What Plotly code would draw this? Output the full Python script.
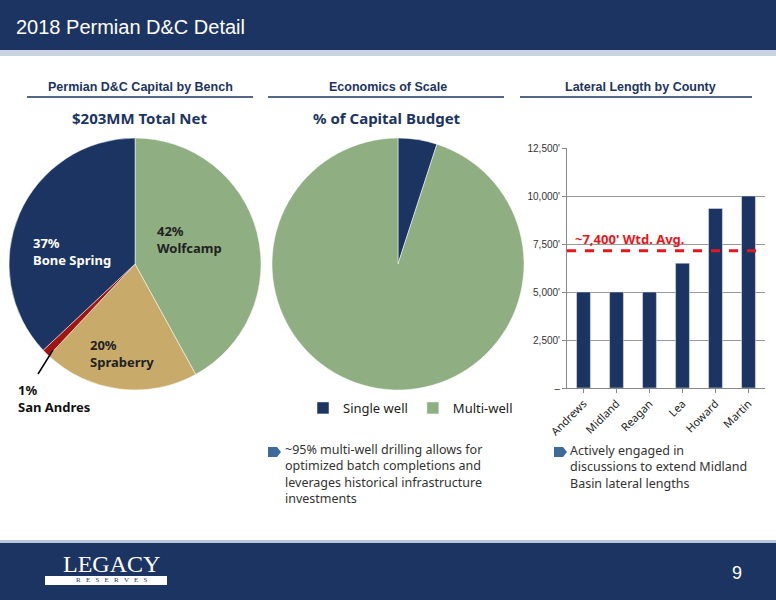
import plotly.graph_objects as go

bench_labels = ["Wolfcamp", "Spraberry", "San Andres", "Bone Spring"]
bench_values = [42, 20, 1, 37]
bench_colors = ["#8fae82", "#c8ab6a", "#a3140e", "#1c3461"]

scale_labels = ["Single well", "Multi-well"]
scale_values = [5, 95]
scale_colors = ["#1c3461", "#8fae82"]

counties = ["Andrews", "Midland", "Reagan", "Lea", "Howard", "Martin"]
lateral = [5000, 5000, 5000, 6500, 9350, 10000]
wtd_avg = 7150
yticks = [0, 2500, 5000, 7500, 10000, 12500]
ytick_text = ["–", "2,500'", "5,000'", "7,500'", "10,000'", "12,500'"]

W, H = 776, 600
def px(x): return x / W
def py(y): return 1 - y / H

fig = go.Figure()
fig.add_trace(go.Pie(labels=bench_labels, values=bench_values, sort=False, direction="clockwise",
                     marker=dict(colors=bench_colors, line=dict(color="white", width=0.5)),
                     textinfo="none", hoverinfo="label+percent", showlegend=False,
                     domain=dict(x=[px(9), px(261)], y=[py(390), py(138)])))
fig.add_trace(go.Pie(labels=scale_labels, values=scale_values, sort=False, direction="clockwise",
                     marker=dict(colors=scale_colors, line=dict(color="white", width=0.5)),
                     textinfo="none", showlegend=True,
                     domain=dict(x=[px(272), px(524)], y=[py(390), py(138)])))
fig.add_trace(go.Bar(x=counties, y=lateral, marker_color="#1c3461", width=0.42,
                     showlegend=False, xaxis="x", yaxis="y"))
fig.add_trace(go.Scatter(x=[-0.5, 5.5], y=[wtd_avg, wtd_avg], mode="lines",
                         line=dict(color="#e8161b", width=3, dash="dash"),
                         showlegend=False, xaxis="x2", yaxis="y"))

shapes = [
    dict(type="rect", xref="paper", yref="paper", x0=0, x1=1, y0=py(50), y1=1,
         fillcolor="#1c3461", line_width=0, layer="below"),
    dict(type="rect", xref="paper", yref="paper", x0=0, x1=1, y0=py(56), y1=py(50),
         fillcolor="#c9d3e2", line_width=0, layer="below"),
    dict(type="rect", xref="paper", yref="paper", x0=0, x1=1, y0=0, y1=py(543),
         fillcolor="#1c3461", line_width=0, layer="below"),
    dict(type="rect", xref="paper", yref="paper", x0=0, x1=1, y0=py(543), y1=py(540),
         fillcolor="#b7c7dc", line_width=0, layer="below"),
    dict(type="rect", xref="paper", yref="paper", x0=px(45), x1=px(167), y0=py(585), y1=py(576),
         fillcolor="white", line_width=0),
]
for x0, x1 in [(27, 253), (268, 504), (520, 752)]:
    shapes.append(dict(type="line", xref="paper", yref="paper", x0=px(x0), x1=px(x1),
                       y0=py(97), y1=py(97), line=dict(color="#1c3461", width=1.5)))
shapes.append(dict(type="line", xref="paper", yref="paper", x0=px(38), x1=px(53),
                   y0=py(374), y1=py(350), line=dict(color="black", width=1.5)))
for bx, by in [(268, 452), (554, 452)]:
    shapes.append(dict(type="path", xref="paper", yref="paper",
                       path=f"M {px(bx)},{py(by-5)} L {px(bx+9)},{py(by-5)} L {px(bx+13)},{py(by)} L {px(bx+9)},{py(by+5)} L {px(bx)},{py(by+5)} Z",
                       fillcolor="#3d6a99", line_width=0))

F = "Noto Sans"
ann = [
    dict(x=px(14), y=py(27), text="2018 Permian D&C Detail", font=dict(size=20, color="white", family="Arial"), xanchor="left"),
    dict(x=px(140), y=py(87), text="<b>Permian D&C Capital by Bench</b>", font=dict(size=12.5, color="#1c3461", family="Arial")),
    dict(x=px(388), y=py(87), text="<b>Economics of Scale</b>", font=dict(size=12.5, color="#1c3461", family="Arial")),
    dict(x=px(640), y=py(87), text="<b>Lateral Length by County</b>", font=dict(size=12.5, color="#1c3461", family="Arial")),
    dict(x=px(140), y=py(118), text="<b>$203MM Total Net</b>", font=dict(size=15, color="#1c3461", family=F)),
    dict(x=px(387), y=py(118), text="<b>% of Capital Budget</b>", font=dict(size=15, color="#1c3461", family=F)),
    dict(x=px(155), y=py(239), text="<b>42%<br>Wolfcamp</b>", font=dict(size=13, color="#222", family=F), xanchor="left", align="left"),
    dict(x=px(31), y=py(252), text="<b>37%<br>Bone Spring</b>", font=dict(size=13, color="white", family=F), xanchor="left", align="left"),
    dict(x=px(88), y=py(353), text="<b>20%<br>Spraberry</b>", font=dict(size=13, color="#222", family=F), xanchor="left", align="left"),
    dict(x=px(16), y=py(398), text="<b>1%<br>San Andres</b>", font=dict(size=13, color="#111", family=F), xanchor="left", align="left"),
    dict(x=px(573), y=py(239), text="<b>~7,400' Wtd. Avg.</b>", font=dict(size=13, color="#e8161b", family=F), xanchor="left"),
    dict(x=px(283), y=py(474), text="~95% multi-well drilling allows for<br>optimized batch completions and<br>leverages historical infrastructure<br>investments",
         font=dict(size=12.5, color="#333", family=F), xanchor="left", align="left"),
    dict(x=px(568), y=py(467), text="Actively engaged in<br>discussions to extend Midland<br>Basin lateral lengths",
         font=dict(size=12.5, color="#333", family=F), xanchor="left", align="left"),
    dict(x=px(737), y=py(573), text="9", font=dict(size=18, color="white", family="Arial")),
    dict(x=px(112), y=py(564), text="LEGACY", font=dict(size=24, color="white", family="Liberation Serif")),
    dict(x=px(112), y=py(580), text="R   E   S   E   R   V   E   S", font=dict(size=7, color="#1c3461", family="Liberation Serif")),
]
for a in ann:
    a.update(xref="paper", yref="paper", showarrow=False)
    a.setdefault("yanchor", "middle")
    a.setdefault("xanchor", "center")

fig.update_layout(
    width=W, height=H, margin=dict(l=0, r=0, t=0, b=0, autoexpand=False), paper_bgcolor="white", plot_bgcolor="white",
    shapes=shapes, annotations=ann,
    legend=dict(orientation="h", x=px(303), y=py(408), yanchor="middle", xanchor="left",
                font=dict(size=13, family=F, color="#222"), itemwidth=30),
    xaxis=dict(domain=[px(567), px(765)], anchor="y", tickangle=-45, showline=True, linecolor="#888", automargin=False,
               ticks="outside", ticklen=4, tickcolor="#888", tickfont=dict(size=11, family=F, color="#222")),
    xaxis2=dict(domain=[px(567), px(765)], anchor="y", overlaying="x", range=[-0.5, 5.5], visible=False),
    yaxis=dict(domain=[py(388), py(148)], range=[0, 12500], tickvals=yticks, ticktext=ytick_text, automargin=False,
               showgrid=True, gridcolor="#999", showline=True, linecolor="#888", ticks="outside",
               ticklen=4, tickcolor="#888", tickfont=dict(size=10, family="Arial", color="#333")),
    bargap=0.5,
)
fig.write_html("out.html", config={"displayModeBar": False},
               post_script="document.body.style.margin='0';document.body.style.overflow='hidden';")
